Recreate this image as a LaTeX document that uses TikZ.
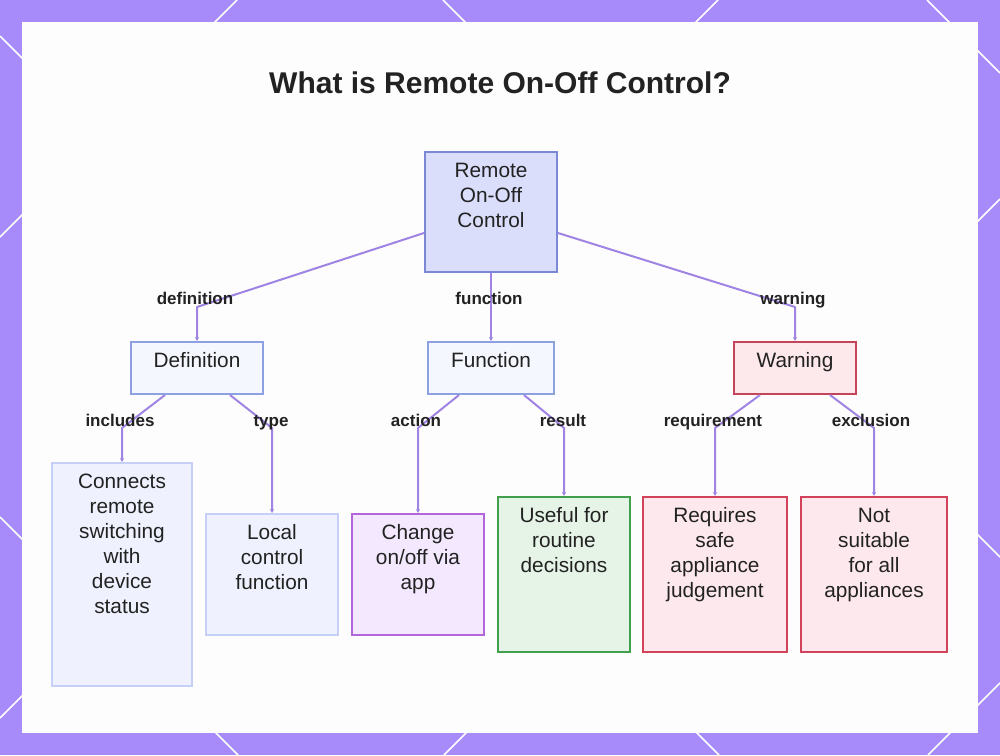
\documentclass[tikz,border=0pt]{standalone}
\usepackage{fontspec}
\setmainfont{Liberation Sans}
\usetikzlibrary{arrows.meta}
\definecolor{framecol}{RGB}{167,139,250}
\definecolor{panelcol}{RGB}{253,253,253}
\definecolor{edgecol}{RGB}{160,132,228}
\definecolor{txtcol}{RGB}{34,34,34}
\definecolor{rootfill}{RGB}{218,222,251}
\definecolor{rootdraw}{RGB}{122,136,214}
\definecolor{midfill}{RGB}{245,247,254}
\definecolor{middraw}{RGB}{140,160,226}
\definecolor{warnfill}{RGB}{253,232,236}
\definecolor{warndraw}{RGB}{196,68,90}
\definecolor{lightfill}{RGB}{239,242,254}
\definecolor{lightdraw}{RGB}{198,208,246}
\definecolor{purfill}{RGB}{243,232,253}
\definecolor{purdraw}{RGB}{178,102,218}
\definecolor{grnfill}{RGB}{230,244,231}
\definecolor{grndraw}{RGB}{64,160,76}
\definecolor{redfill}{RGB}{253,233,237}
\definecolor{reddraw}{RGB}{210,66,90}
\tikzset{
  boxbase/.style={rectangle, line width=2pt, inner sep=0pt},
  rootbox/.style={boxbase, fill=rootfill, draw=rootdraw},
  midbox/.style={boxbase, fill=midfill, draw=middraw},
  warnbox/.style={boxbase, fill=warnfill, draw=warndraw},
  lightbox/.style={boxbase, fill=lightfill, draw=lightdraw},
  purbox/.style={boxbase, fill=purfill, draw=purdraw},
  grnbox/.style={boxbase, fill=grnfill, draw=grndraw},
  redbox/.style={boxbase, fill=redfill, draw=reddraw},
  boxtext/.style={anchor=north, inner sep=0pt, align=center, text=txtcol,
    font=\fontsize{20.8}{25}\selectfont},
  edgelabel/.style={anchor=base, inner sep=0pt, text=txtcol,
    font=\fontsize{17}{19}\selectfont\bfseries},
  edge/.style={draw=edgecol, line width=2pt, line join=round,
    -{Stealth[length=4pt,width=4pt]}},
  deco/.style={draw=white, line width=1.5pt}
}
\begin{document}
\begin{tikzpicture}[x=1pt,y=-1pt]
\useasboundingbox (0,0) rectangle (1000,755);
\fill[framecol] (0,0) rectangle (1000,755);
\begin{scope}
  \clip (0,0) rectangle (1000,755);
  \draw[deco] (237,0) -- (0,237);
  \draw[deco] (718,0) -- (0,718);
  \draw[deco] (1000,199) -- (444,755);
  \draw[deco] (1000,683) -- (928,755);
  \draw[deco] (0,36) -- (719,755);
  \draw[deco] (0,517) -- (238,755);
  \draw[deco] (443,0) -- (1000,557);
  \draw[deco] (927,0) -- (1000,73);
\end{scope}
\fill[panelcol] (22,22) rectangle (978,733);

\node[anchor=base, inner sep=0pt, text=txtcol, font=\fontsize{30}{34}\selectfont\bfseries]
  (title) at (500,93) {What is Remote On-Off Control?};

% boxes
\node[rootbox, minimum width=132pt, minimum height=120pt] (root) at (491,212) {};
\node[midbox, minimum width=132pt, minimum height=52pt] (def) at (197,368) {};
\node[midbox, minimum width=126pt, minimum height=52pt] (fun) at (491,368) {};
\node[warnbox, minimum width=122pt, minimum height=52pt] (war) at (795,368) {};
\node[lightbox, minimum width=140pt, minimum height=223pt] (con) at (122,574.5) {};
\node[lightbox, minimum width=132pt, minimum height=121pt] (loc) at (272,574.5) {};
\node[purbox, minimum width=132pt, minimum height=121pt] (chg) at (418,574.5) {};
\node[grnbox, minimum width=132pt, minimum height=155pt] (use) at (564,574.5) {};
\node[redbox, minimum width=144pt, minimum height=155pt] (req) at (715,574.5) {};
\node[redbox, minimum width=146pt, minimum height=155pt] (nots) at (874,574.5) {};

% box texts
\node[boxtext] (rootT) at ([yshift=-8.5pt]root.north) {\strut Remote\\On-Off\\Control};
\node[boxtext] (defT) at ([yshift=-8.5pt]def.north) {\strut Definition};
\node[boxtext] (funT) at ([yshift=-8.5pt]fun.north) {\strut Function};
\node[boxtext] (warT) at ([yshift=-8.5pt]war.north) {\strut Warning};
\node[boxtext] (conT) at ([yshift=-8.5pt]con.north) {\strut Connects\\remote\\switching\\with\\device\\status};
\node[boxtext] (locT) at ([yshift=-8.5pt]loc.north) {\strut Local\\control\\function};
\node[boxtext] (chgT) at ([yshift=-8.5pt]chg.north) {\strut Change\\on/off via\\app};
\node[boxtext] (useT) at ([yshift=-8.5pt]use.north) {\strut Useful for\\routine\\decisions};
\node[boxtext] (reqT) at ([yshift=-8.5pt]req.north) {\strut Requires\\safe\\appliance\\judgement};
\node[boxtext] (notT) at ([yshift=-8.5pt]nots.north) {\strut Not\\suitable\\for all\\appliances};

% bend points
\coordinate (b1) at (197,307);
\coordinate (b3) at (795,307);
\coordinate (b4) at (122,428);
\coordinate (b5) at (272,428);
\coordinate (b6) at (418,428);
\coordinate (b7) at (564,428);
\coordinate (b8) at (715,428);
\coordinate (b9) at (874,428);

% connectors
\draw[edge] ([yshift=-21pt]root.west) -- (b1) -- (def.north);
\draw[edge] (root.south) -- (fun.north);
\draw[edge] ([yshift=-21pt]root.east) -- (b3) -- (war.north);
\draw[edge] ([xshift=-32pt]def.south) -- (b4) -- (con.north);
\draw[edge] ([xshift=33pt]def.south) -- (b5) -- (loc.north);
\draw[edge] ([xshift=-32pt]fun.south) -- (b6) -- (chg.north);
\draw[edge] ([xshift=33pt]fun.south) -- (b7) -- (use.north);
\draw[edge] ([xshift=-35pt]war.south) -- (b8) -- (req.north);
\draw[edge] ([xshift=35pt]war.south) -- (b9) -- (nots.north);

% edge labels
\node[edgelabel] (l1) at (195,304) {definition};
\node[edgelabel] (l2) at (489,304) {function};
\node[edgelabel] (l3) at (793,304) {warning};
\node[edgelabel] (l4) at (120,426) {includes};
\node[edgelabel] (l5) at (271,426) {type};
\node[edgelabel] (l6) at (416,426) {action};
\node[edgelabel] (l7) at (563,426) {result};
\node[edgelabel] (l8) at (713,426) {requirement};
\node[edgelabel] (l9) at (871,426) {exclusion};
\end{tikzpicture}
\end{document}
